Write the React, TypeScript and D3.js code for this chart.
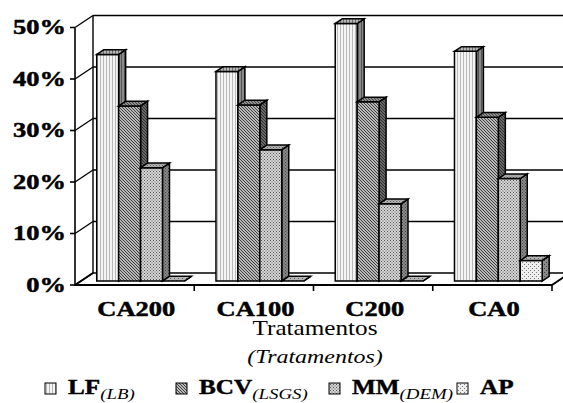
import React from "react";
import * as d3 from "d3";

const categories = ["CA200", "CA100", "C200", "CA0"];
const seriesNames = ["LF", "BCV", "MM", "AP"];
const seriesSubs = ["(LB)", "(LSGS)", "(DEM)", ""];
const LF = [44, 40.7, 50, 44.6];
const BCV = [34, 34.2, 34.8, 31.8];
const MM = [22, 25.5, 15, 19.9];
const AP = [0, 0, 0, 4];
const yTicks = [0, 10, 20, 30, 40, 50];
const tickLabels = ["0%", "10%", "20%", "30%", "40%", "50%"];
const xTitle = "Tratamentos";
const xSubTitle = "(Tratamentos)";

const seriesValues = [LF, BCV, MM, AP];

const W = 563;
const H = 403;
const DX = 18;
const DY = -12;
const Z0 = 0.33;
const Z1 = 0.72;
const SX = 1.26;
const FONT = "'Liberation Serif', 'Times New Roman', serif";

type Kind = "vert" | "diag" | "dots" | "fine";
const kinds: Kind[] = ["vert", "diag", "dots", "fine"];

function Pattern({ id, kind, bg, fg }: { id: string; kind: Kind; bg: string; fg: string }) {
  if (kind === "vert") {
    return (
      <pattern id={id} width={3} height={3} patternUnits="userSpaceOnUse">
        <rect width={3} height={3} fill={bg} />
        <rect x={1} width={1} height={3} fill={fg} />
      </pattern>
    );
  }
  if (kind === "diag") {
    return (
      <pattern id={id} width={3} height={3} patternUnits="userSpaceOnUse">
        <rect width={3} height={3} fill={bg} />
        <path d="M-1,-1 L4,4 M-1,2 L1,4 M2,-1 L4,1" stroke={fg} strokeWidth={1.1} />
      </pattern>
    );
  }
  if (kind === "dots") {
    return (
      <pattern id={id} width={3} height={3} patternUnits="userSpaceOnUse">
        <rect width={3} height={3} fill={bg} />
        <rect x={0} y={0} width={1} height={1} fill={fg} />
        <rect x={1.5} y={1.5} width={1} height={1} fill={fg} />
      </pattern>
    );
  }
  return (
    <pattern id={id} width={4} height={4} patternUnits="userSpaceOnUse">
      <rect width={4} height={4} fill={bg} />
      <rect x={0} y={0} width={1} height={1} fill={fg} />
      <rect x={2} y={2} width={1} height={1} fill={fg} />
    </pattern>
  );
}

const frontCols = [
  { bg: "#f4f4f4", fg: "#b8b8b8" },
  { bg: "#e8e8e8", fg: "#3a3a3a" },
  { bg: "#d6d6d6", fg: "#555555" },
  { bg: "#eeeeee", fg: "#7a7a7a" },
];
const sideCols = [
  { bg: "#8a8a8a", fg: "#555" },
  { bg: "#808080", fg: "#2a2a2a" },
  { bg: "#8a8a8a", fg: "#404040" },
  { bg: "#8a8a8a", fg: "#404040" },
];
const topCols = [
  { bg: "#b4b4b4", fg: "#707070" },
  { bg: "#b0b0b0", fg: "#404040" },
  { bg: "#b4b4b4", fg: "#606060" },
  { bg: "#b4b4b4", fg: "#606060" },
];

export default function App() {
  const yScale = d3.scaleLinear().domain([0, 50]).range([285, 27.5]);
  const xBand = d3.scaleBand<string>().domain(categories).range([75, 552]).padding(0);
  const inner = d3
    .scaleBand<string>()
    .domain(seriesNames)
    .range([0, xBand.bandwidth()])
    .paddingInner(0)
    .paddingOuter(0.72);

  const P = (x: number, v: number, z: number): [number, number] => [x + DX * z, yScale(v) + DY * z];
  const poly = (pts: [number, number][]) => pts.map((p) => p.join(",")).join(" ");

  const xL = 75;
  const xR = 552;

  const bars: React.ReactNode[] = [];
  categories.forEach((c, ci) => {
    seriesNames.forEach((s, si) => {
      const v = seriesValues[si][ci];
      const x0 = (xBand(c) as number) + (inner(s) as number);
      const x1 = x0 + inner.bandwidth();
      const front = poly([P(x0, 0, Z0), P(x1, 0, Z0), P(x1, v, Z0), P(x0, v, Z0)]);
      const top = poly([P(x0, v, Z0), P(x1, v, Z0), P(x1, v, Z1), P(x0, v, Z1)]);
      const side = poly([P(x1, 0, Z0), P(x1, v, Z0), P(x1, v, Z1), P(x1, 0, Z1)]);
      bars.push(
        <g key={`${c}-${s}`} stroke="#000" strokeWidth={1.5} strokeLinejoin="miter">
          <polygon points={side} fill={`url(#side${si})`} />
          {v > 0 && <polygon points={front} fill={`url(#front${si})`} />}
          <polygon points={top} fill={`url(#top${si})`} />
        </g>
      );
    });
  });

  const legendX = [45, 176, 329, 457];

  return (
    <svg
      width={W}
      height={H}
      style={{ position: "absolute", left: 0, top: 0, background: "#fff" }}
      fontFamily={FONT}
    >
      <defs>
        {kinds.map((k, i) => (
          <React.Fragment key={k}>
            <Pattern id={`front${i}`} kind={k} bg={frontCols[i].bg} fg={frontCols[i].fg} />
            <Pattern id={`side${i}`} kind={k} bg={sideCols[i].bg} fg={sideCols[i].fg} />
            <Pattern id={`top${i}`} kind={k} bg={topCols[i].bg} fg={topCols[i].fg} />
          </React.Fragment>
        ))}
      </defs>
      <rect width={W} height={H} fill="#fff" />

      {/* walls and gridlines */}
      <g stroke="#000" strokeWidth={1.4} fill="none">
        {yTicks.map((t) => (
          <g key={t}>
            <line x1={P(xL, t, 0)[0]} y1={P(xL, t, 0)[1]} x2={P(xL, t, 1)[0]} y2={P(xL, t, 1)[1]} />
            <line x1={P(xL, t, 1)[0]} y1={P(xL, t, 1)[1]} x2={P(xR, t, 1)[0]} y2={P(xR, t, 1)[1]} />
          </g>
        ))}
        <line x1={P(xL, 0, 1)[0]} y1={P(xL, 0, 1)[1]} x2={P(xL, 50, 1)[0]} y2={P(xL, 50, 1)[1]} />
      </g>
      <g stroke="#000" strokeWidth={2} fill="none">
        <line x1={xL} y1={yScale(0)} x2={xR} y2={yScale(0)} />
        <line x1={P(xR, 0, 0)[0]} y1={P(xR, 0, 0)[1]} x2={P(xR, 0, 1)[0]} y2={P(xR, 0, 1)[1]} />
        <line x1={P(xL, 0, 0)[0]} y1={P(xL, 0, 0)[1]} x2={P(xL, 0, 1)[0]} y2={P(xL, 0, 1)[1]} />
      </g>

      {bars}

      {/* front value axis */}
      <g stroke="#000" strokeWidth={1.6}>
        <line x1={xL} y1={yScale(0) + 1} x2={xL} y2={yScale(50)} />
        {yTicks.map((t) => (
          <line key={t} x1={xL - 5} y1={yScale(t)} x2={xL} y2={yScale(t)} />
        ))}
        {categories.map((c) => {
          const xe = (xBand(c) as number) + xBand.bandwidth();
          return <line key={c} x1={xe} y1={yScale(0)} x2={xe} y2={yScale(0) + 6} />;
        })}
      </g>
      {yTicks.map((t, i) => (
        <text
          key={t}
          transform={`translate(66,${yScale(t) + 6.5}) scale(${SX},1)`}
          textAnchor="end"
          fontWeight="bold"
          fontSize={21}
          fill="#000"
          stroke="#000"
          strokeWidth={0.5}
        >
          {tickLabels[i]}
        </text>
      ))}
      {categories.map((c) => (
        <text
          key={c}
          transform={`translate(${(xBand(c) as number) + xBand.bandwidth() / 2 + 1.6},315.5) scale(${SX},1)`}
          textAnchor="middle"
          fontWeight="bold"
          fontSize={21}
          fill="#000"
          stroke="#000"
          strokeWidth={0.5}
        >
          {c}
        </text>
      ))}
      <text transform={`translate(315,335) scale(${SX},1)`} textAnchor="middle" fontSize={20} fill="#000">
        {xTitle}
      </text>
      <text
        transform={`translate(315,363) scale(${SX},1)`}
        textAnchor="middle"
        fontSize={19}
        fontStyle="italic"
        fill="#000"
      >
        {xSubTitle}
      </text>

      {/* legend */}
      {seriesNames.map((s, i) => (
        <g key={s}>
          <rect
            x={legendX[i]}
            y={383}
            width={11}
            height={11}
            fill={`url(#front${i})`}
            stroke="#000"
            strokeWidth={1}
          />
          <text transform={`translate(${legendX[i] + 23},394) scale(${SX},1)`} fill="#000">
            <tspan fontWeight="bold" fontSize={20} stroke="#000" strokeWidth={0.4}>
              {s}
            </tspan>
            {seriesSubs[i] && (
              <tspan fontStyle="italic" fontSize={15} dy={5}>
                {seriesSubs[i]}
              </tspan>
            )}
          </text>
        </g>
      ))}
    </svg>
  );
}
